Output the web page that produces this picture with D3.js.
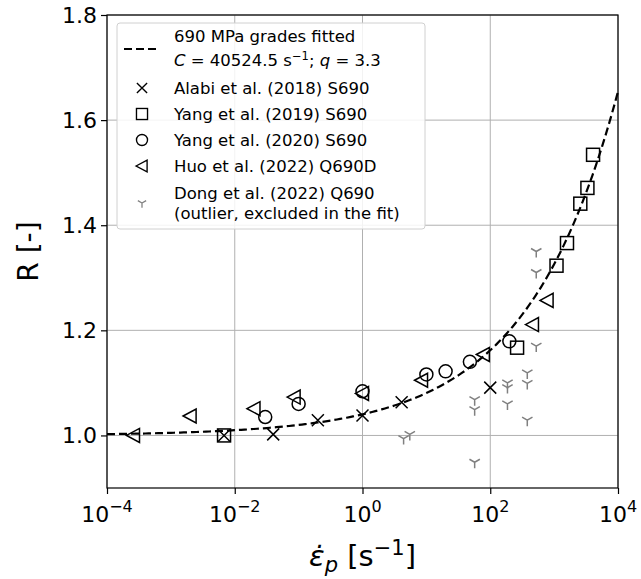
<!DOCTYPE html>
<html>
<head>
<meta charset="utf-8">
<script src="https://cdn.jsdelivr.net/npm/d3@7"></script>
<style>
  body { margin: 0; background: #fff; }
  text { font-family: "DejaVu Sans", sans-serif; }
</style>
</head>
<body>
<div id="chart"></div>
<script>
// fitted Cowper-Symonds parameters
var fit_C = 40524.5;
var fit_q = 3.3;

// test data: strain rate [1/s] and dynamic increase factor R
var alabi_rate = [0.0068, 0.04, 0.2, 1, 4.1, 100];
var alabi_R = [1.0, 1.002, 1.029, 1.038, 1.063, 1.091];

var yang19_rate = [0.0068, 263, 1090, 1590, 2570, 3320, 4070];
var yang19_R = [1.0, 1.167, 1.323, 1.366, 1.441, 1.471, 1.534];

var yang20_rate = [0.03, 0.1, 1, 10, 20, 48, 199];
var yang20_R = [1.035, 1.06, 1.084, 1.116, 1.122, 1.14, 1.179];

var huo_rate = [0.00026, 0.002, 0.02, 0.085, 1, 8.4, 78, 458, 776];
var huo_R = [1.0, 1.037, 1.051, 1.073, 1.08, 1.105, 1.154, 1.211, 1.257];

var dong_rate = [4.4, 5.5, 57, 57, 57, 186, 186, 186, 380, 380, 380, 525, 525, 525];
var dong_R = [0.994, 1.002, 1.068, 1.049, 0.949, 1.1, 1.091, 1.06, 1.119, 1.099, 1.029, 1.35, 1.31, 1.17];

var x_ticks = [-4, -2, 0, 2, 4]; // exponents
var y_ticks = [1.0, 1.2, 1.4, 1.6, 1.8];

var chart_width = 641;
var chart_height = 579;
// plot box (note: "top" is reserved on window, so use p_ prefix)
var p_left = 107, p_right = 618, p_top = 15, p_bottom = 488;

var svg = d3.select('#chart')
  .append('svg')
  .attr('width', chart_width)
  .attr('height', chart_height);

var x_scale = d3.scaleLog().domain([1e-4, 1e4]).range([p_left, p_right]);
var y_scale = d3.scaleLinear().domain([0.9, 1.8]).range([p_bottom, p_top]);

// grid
svg.append('g')
  .selectAll('line')
  .data(x_ticks)
  .enter()
  .append('line')
  .attr('x1', function(d) { return x_scale(Math.pow(10, d)); })
  .attr('x2', function(d) { return x_scale(Math.pow(10, d)); })
  .attr('y1', p_top)
  .attr('y2', p_bottom)
  .attr('stroke', '#b0b0b0')
  .attr('stroke-width', 1);

svg.append('g')
  .selectAll('line')
  .data(y_ticks)
  .enter()
  .append('line')
  .attr('x1', p_left)
  .attr('x2', p_right)
  .attr('y1', function(d) { return y_scale(d); })
  .attr('y2', function(d) { return y_scale(d); })
  .attr('stroke', '#b0b0b0')
  .attr('stroke-width', 1);

// axes
var x_axis = d3.axisBottom(x_scale)
  .tickValues(x_ticks.map(function(d) { return Math.pow(10, d); }))
  .tickSize(6)
  .tickFormat('');
var gx = svg.append('g')
  .attr('transform', 'translate(0,' + p_bottom + ')')
  .call(x_axis);
gx.select('.domain').remove();
gx.selectAll('line').attr('stroke', '#000').attr('stroke-width', 1.2);

var x_labels = svg.append('g')
  .selectAll('text')
  .data(x_ticks)
  .enter()
  .append('text')
  .attr('x', function(d) { return x_scale(Math.pow(10, d)); })
  .attr('y', p_bottom + 34)
  .attr('text-anchor', 'middle')
  .attr('font-size', 22)
  .attr('fill', '#000');
x_labels.append('tspan').text('10');
x_labels.append('tspan')
  .attr('dy', -10)
  .attr('font-size', 16)
  .text(function(d) { return d < 0 ? '\u2212' + (-d) : d; });

var y_axis = d3.axisLeft(y_scale)
  .tickValues(y_ticks)
  .tickSize(6)
  .tickFormat(d3.format('.1f'));
var gy = svg.append('g')
  .attr('transform', 'translate(' + p_left + ',0)')
  .call(y_axis);
gy.select('.domain').remove();
gy.selectAll('line').attr('stroke', '#000').attr('stroke-width', 1.2);
gy.selectAll('text')
  .attr('font-size', 22)
  .attr('font-family', '"DejaVu Sans", sans-serif')
  .attr('fill', '#000')
  .attr('x', -10);

// fitted curve
var curve_exp = d3.range(-4, 4.001, 0.05);
var line = d3.line()
  .x(function(d) { return x_scale(Math.pow(10, d)); })
  .y(function(d) { return y_scale(1 + Math.pow(Math.pow(10, d) / fit_C, 1 / fit_q)); });

svg.append('path')
  .datum(curve_exp)
  .attr('d', line)
  .attr('fill', 'none')
  .attr('stroke', '#000')
  .attr('stroke-width', 2.2)
  .attr('stroke-dasharray', '8,4');

// marker shapes
function marker(g, kind) {
  if (kind === 'x') {
    g.append('path').attr('d', 'M-6,-6L6,6M-6,6L6,-6');
  } else if (kind === 'square') {
    g.append('rect').attr('x', -6.5).attr('y', -6.5).attr('width', 13).attr('height', 13);
  } else if (kind === 'circle') {
    g.append('circle').attr('r', 6.5);
  } else if (kind === 'tri') {
    g.append('path').attr('d', 'M-7,0L6,-7L6,7Z');
  } else if (kind === 'y') {
    g.append('path').attr('d', 'M0,0L0,6M0,0L-5.2,-3M0,0L5.2,-3');
  }
}

function drawSeries(rates, vals, kind, color) {
  var pts = svg.append('g')
    .selectAll('g')
    .data(rates)
    .enter()
    .append('g')
    .attr('transform', function(d, i) {
      return 'translate(' + x_scale(d) + ',' + y_scale(vals[i]) + ')';
    })
    .attr('fill', 'none')
    .attr('stroke', color)
    .attr('stroke-width', 1.5);
  pts.each(function() { marker(d3.select(this), kind); });
}

drawSeries(dong_rate, dong_R, 'y', '#808080');
drawSeries(alabi_rate, alabi_R, 'x', '#000');
drawSeries(yang19_rate, yang19_R, 'square', '#000');
drawSeries(yang20_rate, yang20_R, 'circle', '#000');
drawSeries(huo_rate, huo_R, 'tri', '#000');

// frame
svg.append('rect')
  .attr('x', p_left)
  .attr('y', p_top)
  .attr('width', p_right - p_left)
  .attr('height', p_bottom - p_top)
  .attr('fill', 'none')
  .attr('stroke', '#000')
  .attr('stroke-width', 1.2);

// axis titles
svg.append('text')
  .attr('transform', 'translate(38,' + ((p_top + p_bottom) / 2) + ') rotate(-90)')
  .attr('text-anchor', 'middle')
  .attr('font-size', 28)
  .text('R [-]');

var xt = svg.append('text')
  .attr('x', (p_left + p_right) / 2)
  .attr('y', 566)
  .attr('text-anchor', 'middle')
  .attr('font-size', 29);
xt.append('tspan').attr('font-style', 'italic').text('\u03B5\u0307');
xt.append('tspan').attr('font-style', 'italic').attr('font-size', 21).attr('dy', 6).text('p');
xt.append('tspan').attr('dy', -6).text(' [s');
xt.append('tspan').attr('font-size', 21).attr('dy', -11).text('\u22121');
xt.append('tspan').attr('dy', 11).text(']');

// legend
var legend = svg.append('g');
legend.append('rect')
  .attr('x', 117).attr('y', 23)
  .attr('width', 308).attr('height', 206)
  .attr('rx', 3)
  .attr('fill', '#fff')
  .attr('fill-opacity', 0.85)
  .attr('stroke', '#d0d0d0');

legend.append('line')
  .attr('x1', 124).attr('x2', 160)
  .attr('y1', 49).attr('y2', 49)
  .attr('stroke', '#000')
  .attr('stroke-width', 2.2)
  .attr('stroke-dasharray', '8,4');

var fs = 16.5;
legend.append('text').attr('x', 174).attr('y', 42).attr('font-size', fs).text('690 MPa grades fitted');
var l2 = legend.append('text').attr('x', 174).attr('y', 66).attr('font-size', fs);
l2.append('tspan').attr('font-style', 'italic').text('C');
l2.append('tspan').text(' = 40524.5 s');
l2.append('tspan').attr('font-size', 11.5).attr('dy', -6).text('\u22121');
l2.append('tspan').attr('dy', 6).text('; ');
l2.append('tspan').attr('font-style', 'italic').text('q');
l2.append('tspan').text(' = 3.3');

var legend_rows = [
  { kind: 'x', color: '#000', y: 88, text: ['Alabi et al. (2018) S690'] },
  { kind: 'square', color: '#000', y: 114, text: ['Yang et al. (2019) S690'] },
  { kind: 'circle', color: '#000', y: 140, text: ['Yang et al. (2020) S690'] },
  { kind: 'tri', color: '#000', y: 166, text: ['Huo et al. (2022) Q690D'] },
  { kind: 'y', color: '#808080', y: 203, text: ['Dong et al. (2022) Q690', '(outlier, excluded in the fit)'] }
];

legend_rows.forEach(function(r) {
  var g = legend.append('g')
    .attr('transform', 'translate(142,' + r.y + ') scale(' + (r.kind === 'y' ? 0.8 : 0.85) + ')')
    .attr('fill', 'none')
    .attr('stroke', r.color)
    .attr('stroke-width', 1.6);
  marker(g, r.kind);
  var ty = r.text.length > 1 ? r.y - 10 : r.y;
  r.text.forEach(function(t, i) {
    legend.append('text')
      .attr('x', 174)
      .attr('y', ty + i * 20 + 6)
      .attr('font-size', fs)
      .text(t);
  });
});
</script>
</body>
</html>
